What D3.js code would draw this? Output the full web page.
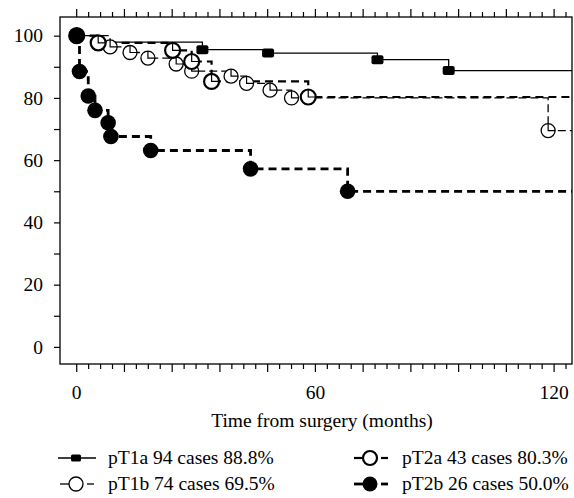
<!DOCTYPE html>
<html>
<head>
<meta charset="utf-8">
<script src="https://cdn.jsdelivr.net/npm/d3@7"></script>
<style>
  body { margin: 0; background: #fff; }
</style>
</head>
<body>
<script>
// Kaplan-Meier curves (months, %)
var tPT1a = [0, 5.5, 31.6, 48.1, 75.6, 93.5];
var sPT1a = [100, 97.9, 95.5, 94.4, 92.3, 88.8];

var tPT1b = [0, 8.4, 13.4, 17.9, 25.0, 28.9, 38.8, 42.7, 48.6, 54.0, 118.5];
var sPT1b = [100, 96.4, 94.6, 92.8, 90.9, 88.6, 87.0, 84.7, 82.5, 80.0, 69.5];

var tPT2a = [0, 5.4, 24.1, 28.9, 33.9, 58.2];
var sPT2a = [100, 97.7, 95.3, 91.7, 85.3, 80.3];

var tPT2b = [0, 0.7, 2.9, 4.6, 7.9, 8.6, 18.6, 43.7, 68.1];
var sPT2b = [100, 88.5, 80.6, 76.0, 72.0, 67.6, 63.1, 57.2, 50.0];

var legendLabels = ["pT1a 94 cases 88.8%", "pT1b 74 cases 69.5%",
                    "pT2a 43 cases 80.3%", "pT2b 26 cases 50.0%"];
var xTickLabels = [0, 60, 120];
var yTickLabels = [0, 20, 40, 60, 80, 100];

var w = 574, h = 498;
var plotL = 60, plotR = 572, plotT = 17, plotB = 364;
var FONT = '"Liberation Serif", "Times New Roman", serif';
var FS = '19.5px';

var svg = d3.select('body').append('svg')
    .attr('width', w)
    .attr('height', h);

var xScale = d3.scaleLinear().domain([-4.2, 124.5]).range([plotL, plotR]);
var yScale = d3.scaleLinear().domain([-5.5, 106]).range([plotB, plotT]);

// series styles
var series = [
  {t: tPT1a, s: sPT1a, sw: 1.3, dash: null, marker: 'square'},
  {t: tPT1b, s: sPT1b, sw: 1.3, dash: '8,4', marker: 'open', msw: 1.3, r: 7},
  {t: tPT2a, s: sPT2a, sw: 2.2, dash: '8,5', marker: 'open', msw: 2.2, r: 7.5},
  {t: tPT2b, s: sPT2b, sw: 2.8, dash: '8,5', marker: 'filled'}
];

function stepPoints(d) {
  var pts = [];
  for (var i = 0; i < d.t.length; i++) {
    if (i > 0) pts.push([d.t[i], d.s[i - 1]]);
    pts.push([d.t[i], d.s[i]]);
  }
  pts.push([xScale.domain()[1], d.s[d.s.length - 1]]);
  return pts;
}

var line = d3.line().x(p => xScale(p[0])).y(p => yScale(p[1]));

svg.selectAll('path.km')
    .data(series)
    .enter()
    .append('path')
    .attr('class', 'km')
    .attr('d', d => line(stepPoints(d)))
    .attr('fill', 'none')
    .attr('stroke', '#000')
    .attr('stroke-width', d => d.sw)
    .attr('stroke-dasharray', d => d.dash);

function drawMarker(g, d, cx, cy) {
  if (d.marker === 'square') {
    g.append('rect')
      .attr('x', cx - 6).attr('y', cy - 4.5)
      .attr('width', 12).attr('height', 9)
      .attr('rx', 2)
      .attr('fill', '#000');
  } else if (d.marker === 'filled') {
    g.append('circle')
      .attr('cx', cx).attr('cy', cy).attr('r', 7.8)
      .attr('fill', '#000');
  } else {
    g.append('circle')
      .attr('cx', cx).attr('cy', cy).attr('r', d.r)
      .attr('fill', '#fff')
      .attr('stroke', '#000')
      .attr('stroke-width', d.msw);
    // the step line passing through the open marker
    g.append('path')
      .attr('d', 'M' + cx + ',' + (cy - d.r) + 'V' + cy + 'H' + (cx + d.r))
      .attr('fill', 'none')
      .attr('stroke', '#000')
      .attr('stroke-width', 1.2);
  }
}

series.forEach(function(d) {
  var g = svg.append('g');
  d.t.forEach(function(t, i) {
    drawMarker(g, d, xScale(t), yScale(d.s[i]));
  });
});

// frame
svg.append('rect')
    .attr('x', plotL).attr('y', plotT)
    .attr('width', plotR - plotL).attr('height', plotB - plotT)
    .attr('fill', 'none')
    .attr('stroke', '#000')
    .attr('stroke-width', 1.3);

// x ticks on bottom and top: majors every 12, minors every 3
var xMinor = d3.range(0, 124, 3);
function xTicks(sel, dir) {
  sel.selectAll('line.xt')
    .data(xMinor)
    .enter()
    .append('line')
    .attr('x1', d => xScale(d)).attr('x2', d => xScale(d))
    .attr('y1', 0)
    .attr('y2', d => dir * (d % 12 === 0 ? 8 : 5))
    .attr('stroke', '#000')
    .attr('stroke-width', 1.2);
}
svg.append('g').attr('transform', 'translate(0,' + plotB + ')').call(xTicks, 1);
svg.append('g').attr('transform', 'translate(0,' + plotT + ')').call(xTicks, -1);

svg.selectAll('text.xl')
    .data(xTickLabels)
    .enter()
    .append('text')
    .attr('class', 'xl')
    .attr('x', d => xScale(d))
    .attr('y', 399)
    .attr('text-anchor', 'middle')
    .attr('font-family', FONT)
    .attr('font-size', FS)
    .text(d => d);

// y axis
var yAxis = d3.axisLeft(yScale)
    .tickValues(d3.range(0, 101, 10))
    .tickSize(6)
    .tickFormat(d => yTickLabels.indexOf(d) >= 0 ? d : '');
var yG = svg.append('g')
    .attr('transform', 'translate(' + plotL + ',0)')
    .call(yAxis);
yG.select('.domain').remove();
yG.selectAll('line').attr('stroke-width', 1.2);
yG.selectAll('text')
    .attr('font-size', FS)
    .attr('font-family', FONT)
    .attr('fill', '#000')
    .attr('x', -17);

// x title
svg.append('text')
    .attr('x', 322)
    .attr('y', 427)
    .attr('text-anchor', 'middle')
    .attr('font-family', FONT)
    .attr('font-size', FS)
    .text('Time from surgery (months)');

// legend
var legPos = [[58, 458], [58, 484], [352, 458], [352, 484]];
series.forEach(function(d, i) {
  var lx = legPos[i][0], ly = legPos[i][1];
  var g = svg.append('g');
  var cx = lx + 18;
  if (d.dash) {
    [[lx + 2, cx - 6], [cx + 11, cx + 18]].forEach(function(s) {
      g.append('line')
        .attr('x1', s[0]).attr('x2', s[1])
        .attr('y1', ly).attr('y2', ly)
        .attr('stroke', '#000')
        .attr('stroke-width', d.sw);
    });
  } else {
    g.append('line')
      .attr('x1', lx).attr('x2', lx + 38)
      .attr('y1', ly).attr('y2', ly)
      .attr('stroke', '#000')
      .attr('stroke-width', d.sw);
  }
  if (d.marker === 'square') {
    g.append('rect').attr('x', cx - 5).attr('y', ly - 3.5)
      .attr('width', 10).attr('height', 7).attr('rx', 1.5).attr('fill', '#000');
  } else if (d.marker === 'filled') {
    g.append('circle').attr('cx', cx).attr('cy', ly).attr('r', 7.5).attr('fill', '#000');
  } else {
    g.append('circle').attr('cx', cx).attr('cy', ly).attr('r', 7)
      .attr('fill', '#fff').attr('stroke', '#000').attr('stroke-width', d.msw);
  }
  g.append('text')
    .attr('x', lx + 50)
    .attr('y', ly + 6)
    .attr('font-family', FONT)
    .attr('font-size', FS)
    .text(legendLabels[i]);
});
</script>
</body>
</html>
